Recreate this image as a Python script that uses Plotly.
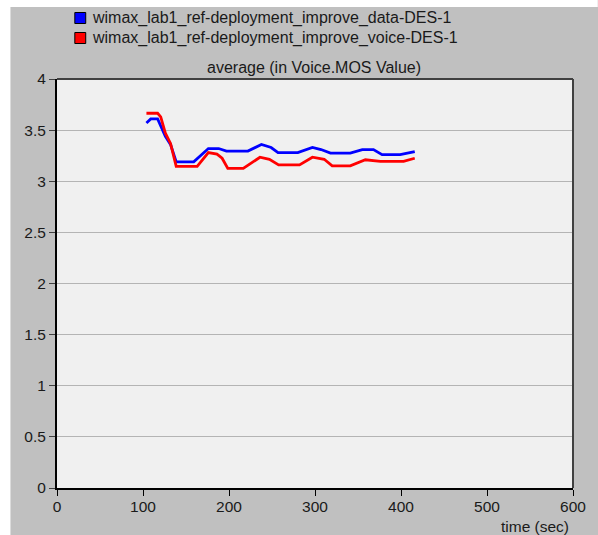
import plotly.graph_objects as go

# ---- data ----
data_t = [104, 109, 117, 120.6, 126, 132, 138.6, 159, 176, 188, 197, 222, 237.7, 249, 257, 280, 297, 307, 318, 341, 355, 368, 378, 399, 416]
data_v = [3.57, 3.61, 3.61, 3.535, 3.44, 3.36, 3.19, 3.19, 3.32, 3.32, 3.295, 3.295, 3.36, 3.33, 3.28, 3.28, 3.33, 3.31, 3.275, 3.275, 3.31, 3.31, 3.26, 3.26, 3.29]

voice_t = [104, 117, 120.6, 126, 132, 138.6, 163, 176, 186, 192, 198.6, 216.6, 236, 247, 257.7, 282, 297, 310.7, 320, 341, 358.6, 376, 403, 416]
voice_v = [3.665, 3.665, 3.63, 3.47, 3.37, 3.145, 3.145, 3.28, 3.265, 3.225, 3.125, 3.125, 3.235, 3.215, 3.16, 3.16, 3.235, 3.215, 3.15, 3.15, 3.21, 3.195, 3.195, 3.225]

series_names = ["wimax_lab1_ref-deployment_improve_data-DES-1",
                "wimax_lab1_ref-deployment_improve_voice-DES-1"]
series_colors = ["#0000ff", "#ff0000"]
chart_title = "average (in Voice.MOS Value)"
x_title = "time (sec)"
x_ticks = [0, 100, 200, 300, 400, 500, 600]
y_ticks = [0, 0.5, 1, 1.5, 2, 2.5, 3, 3.5, 4]

# ---- layout geometry ----
W, H = 598, 535
L, R, T, B = 57, 20, 79, 47
PW, PH = W - L - R, H - T - B

def px(x):
    return (x - L) / PW

def py(y):
    return (H - B - y) / PH

FONT = "Liberation Sans, Arial, sans-serif"
TXT = "#1a1a1a"

fig = go.Figure()
fig.add_trace(go.Scatter(x=data_t, y=data_v, mode="lines", name=series_names[0],
                         line=dict(color=series_colors[0], width=2.8), showlegend=False))
fig.add_trace(go.Scatter(x=voice_t, y=voice_v, mode="lines", name=series_names[1],
                         line=dict(color=series_colors[1], width=2.8), showlegend=False))

shapes = [
    # white outer strips
    dict(type="rect", xref="paper", yref="paper", x0=px(-5), x1=px(10), y0=py(H + 5), y1=py(-5),
         fillcolor="white", line=dict(width=0), layer="above"),
    dict(type="rect", xref="paper", yref="paper", x0=px(-5), x1=px(W + 5), y0=py(7), y1=py(-5),
         fillcolor="white", line=dict(width=0), layer="above"),
    # frame top/right
    dict(type="line", xref="paper", yref="paper", x0=0, x1=1, y0=1, y1=1,
         line=dict(color="#404040", width=2), layer="above"),
    dict(type="line", xref="paper", yref="paper", x0=1, x1=1, y0=0, y1=1,
         line=dict(color="#404040", width=2), layer="above"),
]
annotations = []
legend_rows = [18, 38]
for name, col, yc in zip(series_names, series_colors, legend_rows):
    shapes.append(dict(type="rect", xref="paper", yref="paper",
                       x0=px(75), x1=px(86), y0=py(yc + 5.5), y1=py(yc - 5.5),
                       fillcolor=col, line=dict(color="#000000", width=1), layer="above"))
    annotations.append(dict(text=name, xref="paper", yref="paper", x=px(90), y=py(yc),
                            xanchor="left", yanchor="middle", showarrow=False,
                            font=dict(family=FONT, size=16, color=TXT)))
annotations.append(dict(text=chart_title, xref="paper", yref="paper", x=px(316), y=py(68),
                        xanchor="center", yanchor="middle", showarrow=False,
                        font=dict(family=FONT, size=16, color=TXT)))
annotations.append(dict(text=x_title, xref="paper", yref="paper", x=px(576), y=py(526),
                        xanchor="right", yanchor="middle", showarrow=False,
                        font=dict(family=FONT, size=15.5, color=TXT)))

fig.update_layout(
    width=W, height=H,
    margin=dict(l=L, r=R, t=T, b=B, pad=0),
    paper_bgcolor="#c0c0c0",
    plot_bgcolor="#f0f0f0",
    showlegend=False,
    font=dict(family=FONT, size=15.5, color=TXT),
    shapes=shapes,
    annotations=annotations,
    xaxis=dict(range=[0, 600], tickvals=x_ticks, showgrid=False, zeroline=False,
               showline=True, linecolor="#000000", linewidth=2,
               ticks="outside", ticklen=6, tickcolor="#000000", tickwidth=1,
               ticklabelstandoff=-3,
               tickfont=dict(family=FONT, size=15.5, color=TXT), fixedrange=True),
    yaxis=dict(range=[0, 4], tickvals=y_ticks, ticktext=[str(v) if v % 1 else str(int(v)) for v in y_ticks],
               showgrid=True, gridcolor="#b4b4b4", gridwidth=1, zeroline=False,
               showline=True, linecolor="#000000", linewidth=2,
               ticks="outside", ticklen=6, tickcolor="#404040", tickwidth=1,
               tickfont=dict(family=FONT, size=15.5, color=TXT), fixedrange=True),
)

fig.write_html("out.html", config={"displayModeBar": False},
               post_script="document.body.style.margin='0';document.body.style.overflow='hidden';")
